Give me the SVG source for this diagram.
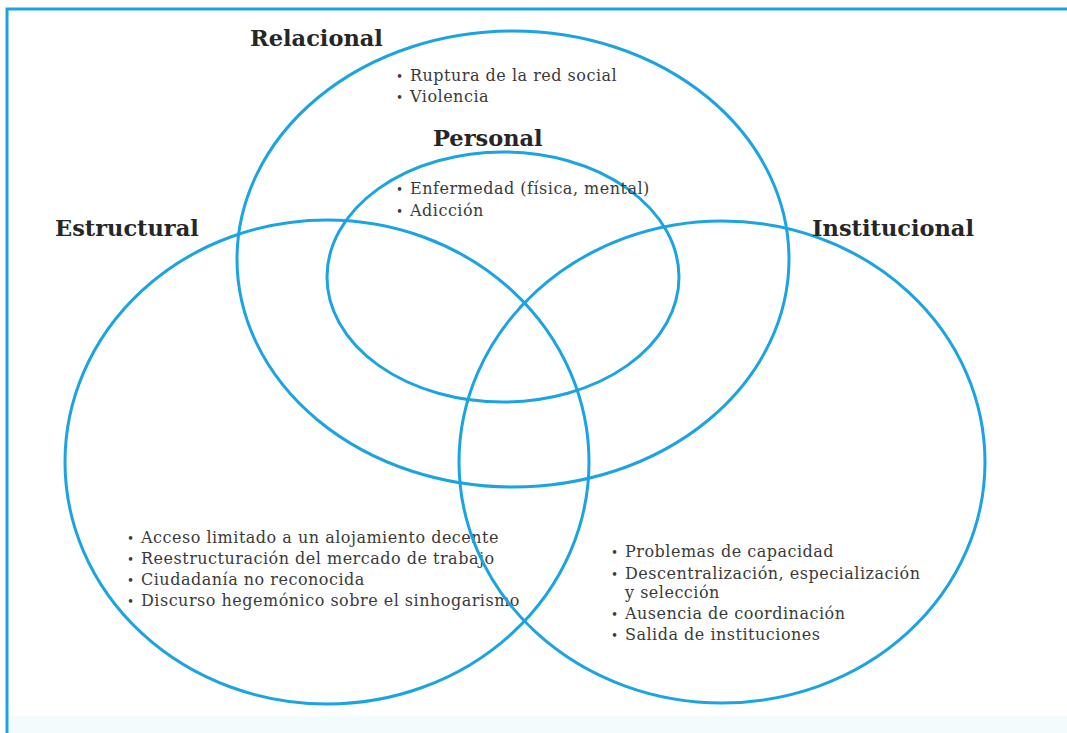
<svg xmlns="http://www.w3.org/2000/svg" width="1067" height="733" viewBox="0 0 1067 733">
<style>
.ring{fill:none;stroke:#1ba3e2;stroke-width:3}
.frame{fill:none;stroke:#1ba3e2;stroke-width:3}
.title{font-family:"DejaVu Serif","Liberation Serif",serif;font-weight:bold;font-size:22.5px;fill:#262626}
.item{font-family:"DejaVu Serif","Liberation Serif",serif;font-size:16px;letter-spacing:0.5px;fill:#3a3a3a}
.dot{font-size:12px;letter-spacing:0}
</style>
<rect x="0" y="0" width="1067" height="733" fill="#ffffff"/>
<rect x="9" y="716" width="1058" height="17" fill="#f4fbfc"/>
<path class="frame" d="M7,733 V9 H1067"/>
<g id="relacional">
<ellipse class="ring" cx="513" cy="259" rx="276" ry="228"/>
<text class="title" x="250" y="46">Relacional</text>
<text class="item" x="396" y="81"><tspan class="dot">•</tspan><tspan x="410">Ruptura de la red social</tspan></text>
<text class="item" x="396" y="102"><tspan class="dot">•</tspan><tspan x="410">Violencia</tspan></text>
</g>
<g id="personal">
<ellipse class="ring" cx="503" cy="277" rx="176" ry="125"/>
<text class="title" x="433" y="146">Personal</text>
<text class="item" x="396" y="194"><tspan class="dot">•</tspan><tspan x="410">Enfermedad (física, mental)</tspan></text>
<text class="item" x="396" y="216"><tspan class="dot">•</tspan><tspan x="410">Adicción</tspan></text>
</g>
<g id="estructural">
<ellipse class="ring" cx="327" cy="462" rx="262" ry="242"/>
<text class="title" x="55" y="236">Estructural</text>
<text class="item" x="127" y="543"><tspan class="dot">•</tspan><tspan x="141">Acceso limitado a un alojamiento decente</tspan></text>
<text class="item" x="127" y="564"><tspan class="dot">•</tspan><tspan x="141">Reestructuración del mercado de trabajo</tspan></text>
<text class="item" x="127" y="585"><tspan class="dot">•</tspan><tspan x="141">Ciudadanía no reconocida</tspan></text>
<text class="item" x="127" y="606"><tspan class="dot">•</tspan><tspan x="141">Discurso hegemónico sobre el sinhogarismo</tspan></text>
</g>
<g id="institucional">
<ellipse class="ring" cx="722" cy="462" rx="263" ry="241"/>
<text class="title" x="812" y="236">Institucional</text>
<text class="item" x="611" y="557"><tspan class="dot">•</tspan><tspan x="625">Problemas de capacidad</tspan></text>
<text class="item" x="611" y="579"><tspan class="dot">•</tspan><tspan x="625">Descentralización, especialización</tspan></text>
<text class="item" x="625" y="598">y selección</text>
<text class="item" x="611" y="619"><tspan class="dot">•</tspan><tspan x="625">Ausencia de coordinación</tspan></text>
<text class="item" x="611" y="640"><tspan class="dot">•</tspan><tspan x="625">Salida de instituciones</tspan></text>
</g>
</svg>
